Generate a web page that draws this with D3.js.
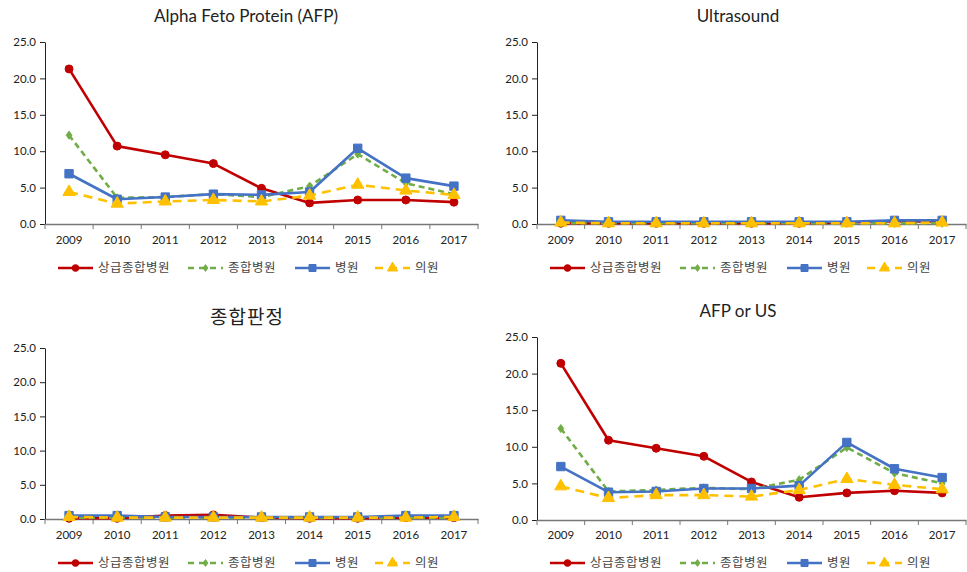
<!DOCTYPE html>
<html><head><meta charset="utf-8">
<script src="https://cdn.jsdelivr.net/npm/d3@7"></script>
<style>body{margin:0;background:#fff}svg{display:block}</style>
</head><body><svg id="c" width="967" height="572"></svg>
<script>
const years = ["2009","2010","2011","2012","2013","2014","2015","2016","2017"];
const seriesNames = ["상급종합병원","종합병원","병원","의원"];
const yTicks = [0,5,10,15,20,25];
const titles = ["Alpha Feto Protein (AFP)","Ultrasound","종합판정","AFP or US"];

const afpTertiary = [21.3,10.7,9.5,8.3,4.9,2.9,3.3,3.3,3.0];
const afpGeneral  = [12.2,3.6,3.7,4.1,3.7,5.2,9.6,5.6,4.1];
const afpHospital = [6.9,3.4,3.7,4.1,4.0,4.4,10.4,6.3,5.2];
const afpClinic   = [4.4,2.8,3.1,3.3,3.1,3.9,5.4,4.6,4.0];

const usTertiary = [0.1,0.1,0.1,0.1,0.1,0.1,0.2,0.4,0.3];
const usGeneral  = [0.1,0.1,0.1,0.1,0.1,0.1,0.1,0.1,0.1];
const usHospital = [0.5,0.3,0.3,0.3,0.3,0.3,0.3,0.5,0.5];
const usClinic   = [0.2,0.1,0.1,0.1,0.1,0.1,0.1,0.1,0.2];

const totTertiary = [0.1,0.1,0.5,0.6,0.2,0.1,0.1,0.2,0.2];
const totGeneral  = [0.2,0.2,0.2,0.2,0.2,0.2,0.2,0.2,0.2];
const totHospital = [0.5,0.5,0.3,0.3,0.3,0.3,0.3,0.5,0.5];
const totClinic   = [0.3,0.2,0.2,0.2,0.2,0.2,0.2,0.2,0.3];

const anyTertiary = [21.4,10.9,9.8,8.7,5.2,3.1,3.7,4.0,3.7];
const anyGeneral  = [12.5,3.9,4.1,4.4,4.2,5.5,9.9,6.4,5.0];
const anyHospital = [7.3,3.8,3.9,4.3,4.3,4.7,10.6,7.0,5.8];
const anyClinic   = [4.6,3.0,3.4,3.4,3.2,4.1,5.6,4.8,4.2];

const panelData = [
  [afpTertiary,afpGeneral,afpHospital,afpClinic],
  [usTertiary,usGeneral,usHospital,usClinic],
  [totTertiary,totGeneral,totHospital,totClinic],
  [anyTertiary,anyGeneral,anyHospital,anyClinic]
];

const colors = ["#C00000","#70AD47","#4472C4","#FFC000"];
const dashes = [null,"6,4",null,"9,6"];
const widths = [2.6,2.6,2.6,2.6];
const font = "Lato, 'Open Sans', 'Noto Sans CJK KR', sans-serif";
const krFont = "'Noto Sans CJK KR', sans-serif";

const layouts = [
  {x0:45, x1:478, yT:42, yB:224, tx:246, ty:22, yl:244, lg:268, legX:58},
  {x0:537, x1:966, yT:42, yB:224, tx:738, ty:22, yl:244, lg:268, legX:550},
  {x0:45, x1:478, yT:348, yB:519, tx:247, ty:323, yl:539, lg:563, legX:58},
  {x0:537, x1:966, yT:337, yB:520, tx:738, ty:317, yl:539, lg:563, legX:550}
];

const svg = d3.select("#c");
const sym = [d3.symbolCircle, d3.symbolDiamond, d3.symbolSquare, d3.symbolTriangle];
const symSize = [50, 30, 70, 65];

function marker(g, i, x, y, scale=1){
  g.append("path").attr("d", d3.symbol().type(sym[i]).size(symSize[i]*scale)())
   .attr("transform", `translate(${x},${y})${i===1?" scale(1,0.8)":""}`)
   .attr("fill", colors[i]).attr("stroke", colors[i]).attr("stroke-width", 1);
}

layouts.forEach((L, p) => {
  const g = svg.append("g");
  const x = d3.scaleBand().domain(years).range([L.x0, L.x1]);
  const y = d3.scaleLinear().domain([0,25]).range([L.yB, L.yT]);

  const isKr = /[가-힣]/.test(titles[p]);
  g.append("text").attr("x", L.tx).attr("y", L.ty + (isKr?1:0)).attr("text-anchor","middle")
   .attr("font-family", isKr?krFont:font).attr("font-size", isKr?19:17)
   .attr("letter-spacing", isKr?"1px":null).attr("fill","#222").text(titles[p]);

  // y axis
  const ya = g.append("g").attr("transform", `translate(${L.x0},0)`)
    .call(d3.axisLeft(y).tickValues(yTicks).tickFormat(d3.format(".1f")).tickSize(5).tickSizeOuter(0));
  ya.select(".domain").attr("stroke","#222");
  ya.selectAll(".tick line").attr("stroke","#222");
  ya.selectAll("text").attr("font-family", font).attr("font-size", 11.5).attr("fill","#222").attr("x",-9);

  // x axis
  const xa = g.append("g").attr("transform", `translate(0,${L.yB})`)
    .call(d3.axisBottom(x).tickSize(0).tickSizeOuter(0));
  xa.select(".domain").attr("stroke","#777").attr("stroke-width",1.5);
  xa.selectAll("text").attr("font-family", font).attr("font-size", 11.5).attr("fill","#222")
    .attr("y", L.yl - L.yB - 4).attr("dy","0.32em");
  const bounds = years.map(d => x(d)).concat([L.x1]);
  g.selectAll(null).data(bounds).join("line")
    .attr("x1", d=>d).attr("x2", d=>d).attr("y1", L.yB).attr("y2", L.yB+5)
    .attr("stroke","#777").attr("stroke-width",1);

  const cx = d => x(d) + x.bandwidth()/2;
  const line = d3.line().x((d,i)=>cx(years[i])).y(d=>y(d));
  panelData[p].forEach((vals, s) => {
    g.append("path").datum(vals).attr("d", line).attr("fill","none")
      .attr("stroke", colors[s]).attr("stroke-width", widths[s])
      .attr("stroke-dasharray", dashes[s]).attr("stroke-linejoin","round");
    vals.forEach((v,i) => marker(g, s, cx(years[i]), y(v)));
  });

  // legend
  const offs = [0, 130, 237, 317];
  seriesNames.forEach((n, s) => {
    const lx = L.legX + offs[s];
    const lgG = g.append("g");
    lgG.append("line").attr("x1", lx).attr("x2", lx+35).attr("y1", L.lg).attr("y2", L.lg)
      .attr("stroke", colors[s]).attr("stroke-width", 2.6).attr("stroke-dasharray", s===1?"6,5":(s===3?"8,6":null));
    marker(lgG, s, lx+17.5, L.lg, 0.7);
    lgG.append("text").attr("x", lx+40).attr("y", L.lg).attr("dy","0.35em")
      .attr("font-family", krFont).attr("font-size", 12.5).attr("letter-spacing","0.5px")
      .attr("fill","#444").text(n);
  });
});
</script></body></html>
